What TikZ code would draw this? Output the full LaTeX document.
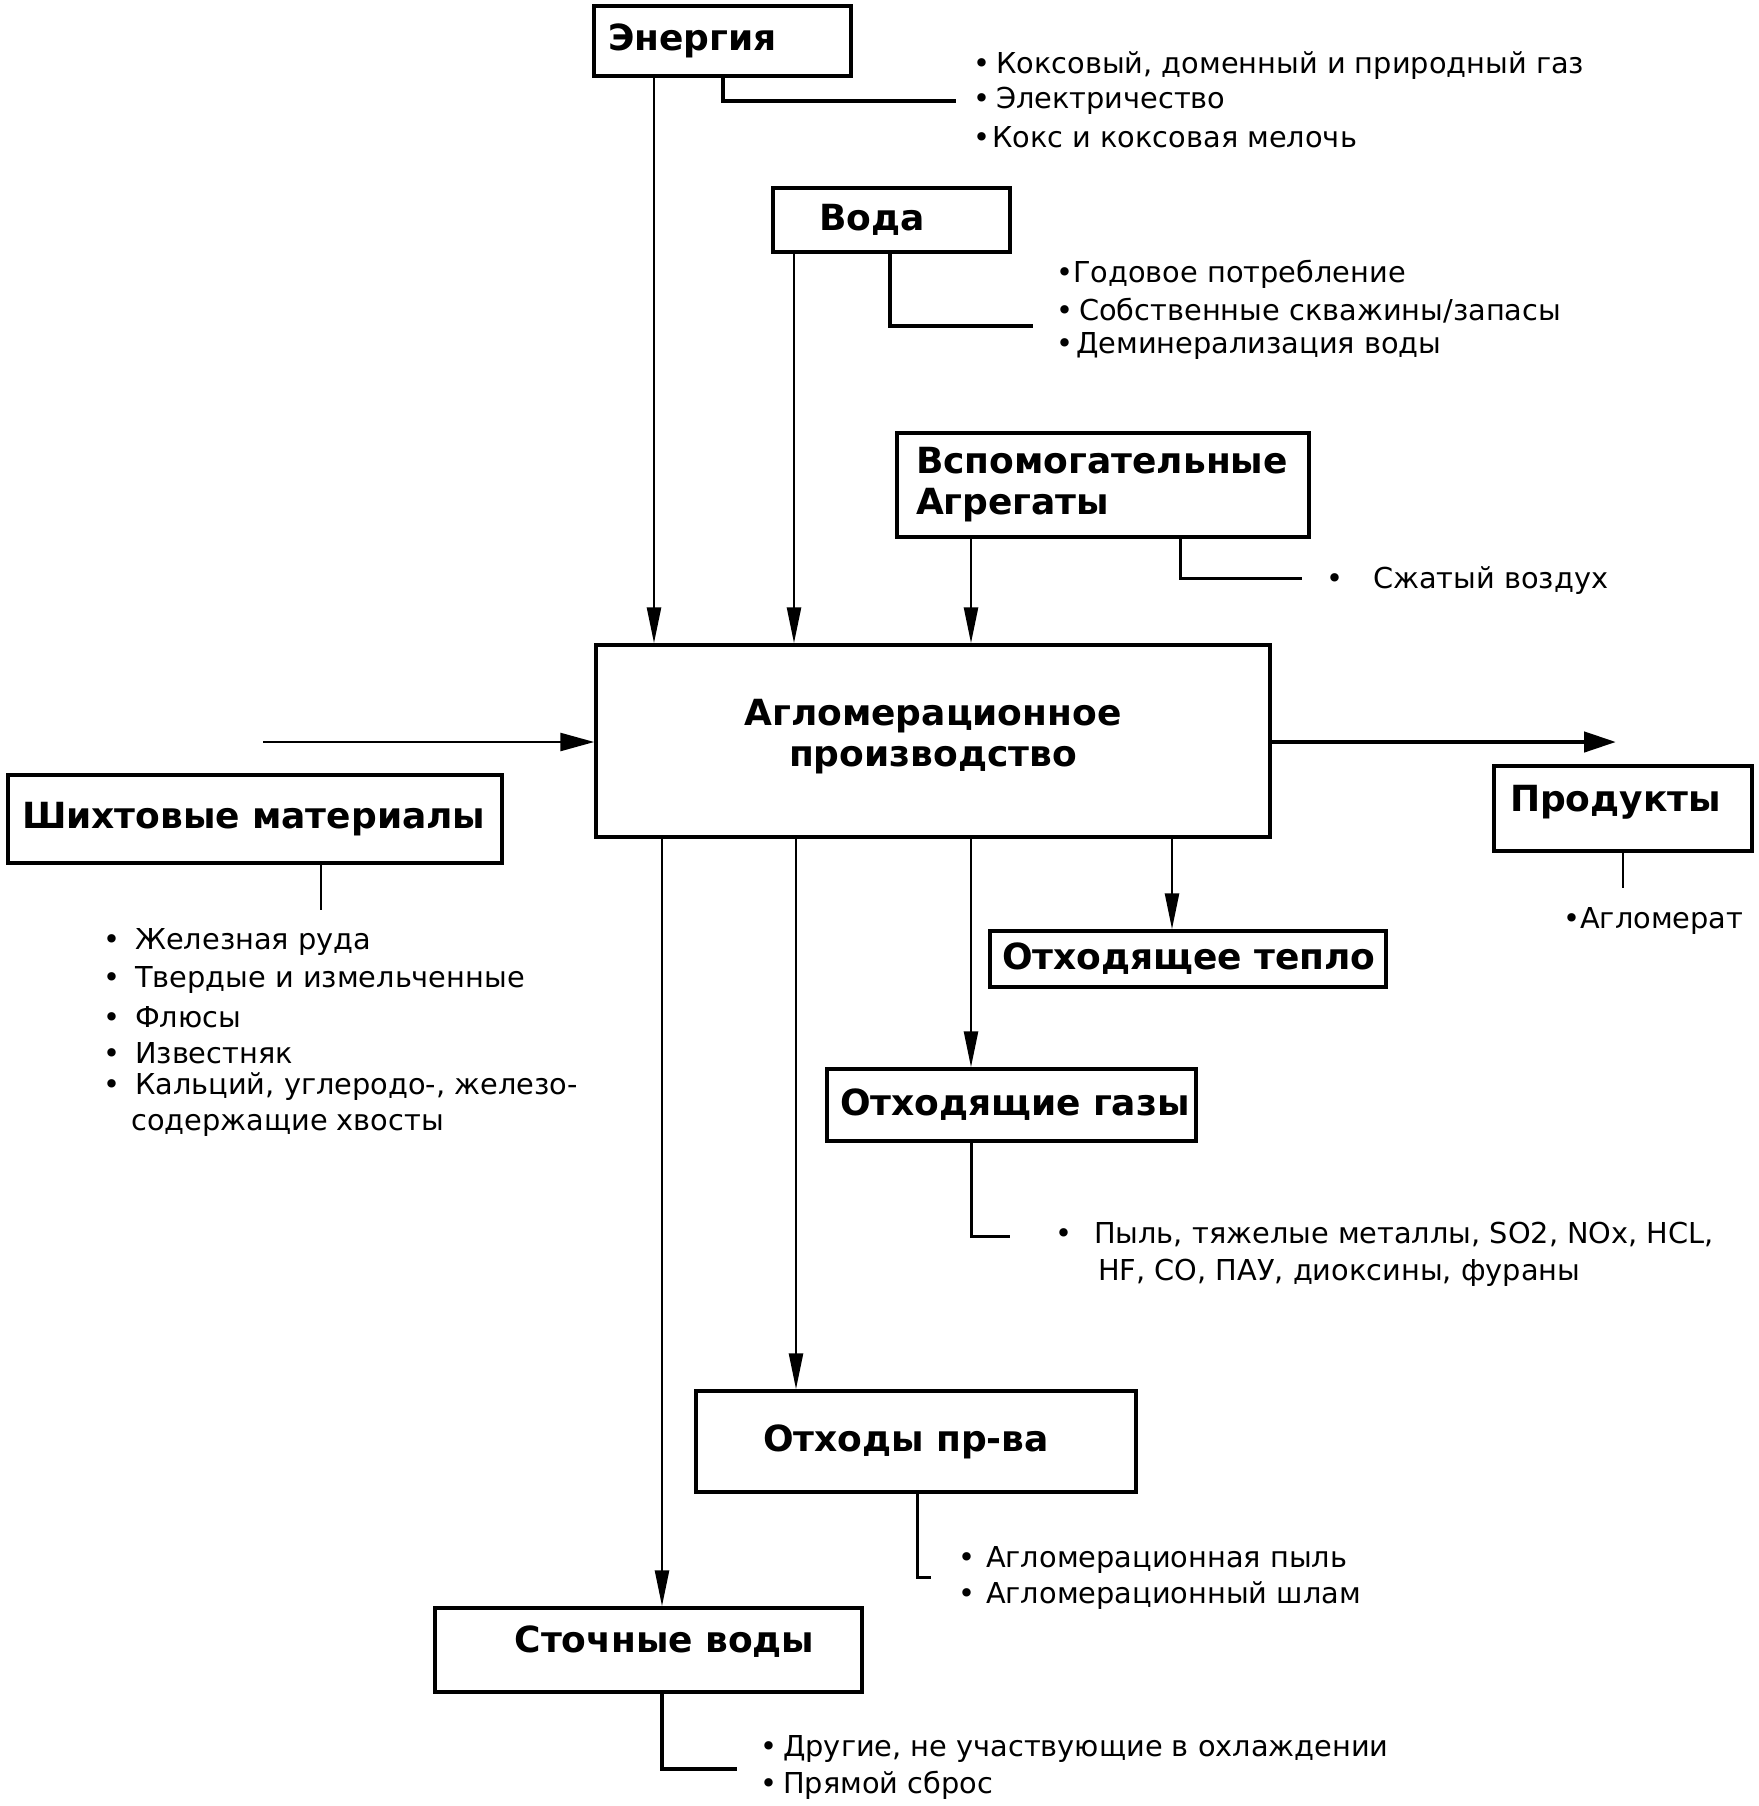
\documentclass[tikz,border=0pt]{standalone}
\usepackage{fontspec}
\setmainfont{DejaVu Sans}
\usetikzlibrary{arrows.meta}
\begin{document}
\begin{tikzpicture}[x=1pt,y=-1pt,
  box/.style={draw, line width=3.5pt, inner ysep=0pt, font=\fontsize{36}{41}\selectfont\bfseries},
  item/.style={anchor=west, inner sep=0pt, font=\fontsize{28.8}{36}\selectfont},
  arr/.style={line width=2.6pt, -{Triangle[length=36pt,width=14pt]}},
  thickarr/.style={line width=4.5pt, -{Triangle[length=32pt,width=20pt]}},
  brk/.style={line width=4pt},
  brkm/.style={line width=3pt},
  brkt/.style={line width=2.2pt}]
\useasboundingbox (0,0) rectangle (1758,1806);

% boxes
\node[box, inner xsep=14pt, text width=229pt, align=left, minimum height=70pt] (energy) at (722.5,41) {\mbox{Энергия}};
\node[box, inner xsep=46pt, text width=145pt, align=left, minimum height=64pt] (voda) at (891.5,220) {\mbox{Вода}};
\node[box, inner xsep=19pt, text width=374pt, align=left, minimum height=104pt] (vspom) at (1103,485) {\mbox{Вспомогательные}\\\mbox{Агрегаты}};
\node[box, inner xsep=10pt, text width=654pt, align=center, minimum height=192pt, text depth=57pt] (main) at (933,741) {Агломерационное\\производство};
\node[box, inner xsep=14pt, text width=466pt, align=left, minimum height=88pt] (shiht) at (255,819) {\mbox{Шихтовые материалы}};
\node[box, inner xsep=16pt, text width=226pt, align=left, minimum height=85pt, text depth=21pt] (prod) at (1623,808.5) {\mbox{Продукты}};
\node[box, inner xsep=12pt, text width=372pt, align=left, minimum height=56pt] (teplo) at (1188,959) {\mbox{Отходящее тепло}};
\node[box, inner xsep=13pt, text width=343pt, align=left, minimum height=72pt] (gazy) at (1011.5,1105) {\mbox{Отходящие газы}};
\node[box, inner xsep=10pt, text width=420pt, align=center, minimum height=101pt] (othody) at (916,1441.5) {\hspace*{-20pt}Отходы пр-ва};
\node[box, inner xsep=10pt, text width=407pt, align=center, minimum height=84pt, text depth=22pt] (stoch) at (648.5,1650) {\hspace*{32pt}Сточные воды};

% x positions of connectors
\coordinate (xe) at (654,0);
\coordinate (xv) at (794,0);
\coordinate (xa) at (971,0);
\coordinate (xt) at (1172,0);
\coordinate (xg) at (971,0);
\coordinate (xo) at (796,0);
\coordinate (xs) at (662,0);

% arrows into main
\draw[arr] (xe |- energy.south) -- (xe |- main.north);
\draw[arr] (xv |- voda.south) -- (xv |- main.north);
\draw[arr] (xa |- vspom.south) -- (xa |- main.north);
\coordinate (inL) at (263,742);
\draw[line width=2.6pt, -{Triangle[length=34pt,width=18pt]}] (inL) -- (inL -| main.west);
\coordinate (outR) at (1616,742);
\draw[thickarr] (outR -| main.east) -- (outR);

% arrows out of main
\draw[arr] (xt |- main.south) -- (xt |- teplo.north);
\draw[arr] (xg |- main.south) -- (xg |- gazy.north);
\draw[arr] (xo |- main.south) -- (xo |- othody.north);
\draw[arr] (xs |- main.south) -- (xs |- stoch.north);

% energy list
\coordinate (eb) at (956,101);
\draw[brk] (723,0 |- energy.south) |- (eb);
\node[item] (e1) at (973,66) {•\hspace{6pt}Коксовый, доменный и природный газ};
\node[item] (e2) at (973,101) {•\hspace{6pt}Электричество};
\node[item] (e3) at (973,137) {•\hspace{2pt}Кокс и коксовая мелочь};

% water list
\coordinate (vb) at (1033,326);
\draw[brk] (890,0 |- voda.south) |- (vb);
\node[item] (v1) at (1056,274) {•Годовое потребление};
\node[item] (v2) at (1056,311) {•\hspace{6pt}Собственные скважины/запасы};
\node[item] (v3) at (1056,346) {•\hspace{3pt}Деминерализация воды};

% aux list
\coordinate (ab) at (1302,578);
\draw[brkm] (1180,0 |- vspom.south) |- (ab);
\node[item] (a1) at (1326,581) {•\hspace{30pt}Сжатый воздух};

% charge materials list
\coordinate (sb) at (321,910);
\draw[brkt] (sb |- shiht.south) -- (sb);
\node[item] (s1) at (103,942) {•\hspace{15pt}Железная руда};
\node[item] (s2) at (103,980) {•\hspace{15pt}Твердые и измельченные};
\node[item] (s3) at (103,1017) {•\hspace{15pt}Флюсы};
\node[item] (s4) at (103,1053) {•\hspace{15pt}Известняк};
\node[item] (s5) at (103,1087) {•\hspace{15pt}Кальций, углеродо-, железо-};
\node[item] (s6) at (131,1125) {содержащие хвосты};

% products list
\coordinate (pb) at (1623,888);
\draw[brkt] (pb |- prod.south) -- (pb);
\node[item] (p1) at (1563,921) {•Агломерат};

% gases list
\coordinate (gb) at (1010,1236);
\draw[brkm] (971,0 |- gazy.south) |- (gb);
\node[item] (g1) at (1055,1234) {•\hspace{22pt}Пыль, тяжелые металлы, SO2, NOx, HCL,};
\node[item] (g2) at (1098,1273) {HF, CO, ПАУ, диоксины, фураны};

% waste list
\coordinate (ob) at (931,1577);
\draw[brkm] (917,0 |- othody.south) |- (ob);
\node[item] (o1) at (958,1560) {•\hspace{11pt}Агломерационная пыль};
\node[item] (o2) at (958,1596) {•\hspace{11pt}Агломерационный шлам};

% waste water list
\coordinate (wb) at (737,1769);
\draw[brk] (662,0 |- stoch.south) |- (wb);
\node[item] (w1) at (760,1749) {•\hspace{6pt}Другие, не участвующие в охлаждении};
\node[item] (w2) at (760,1785) {•\hspace{6pt}Прямой сброс};
\end{tikzpicture}
\end{document}
